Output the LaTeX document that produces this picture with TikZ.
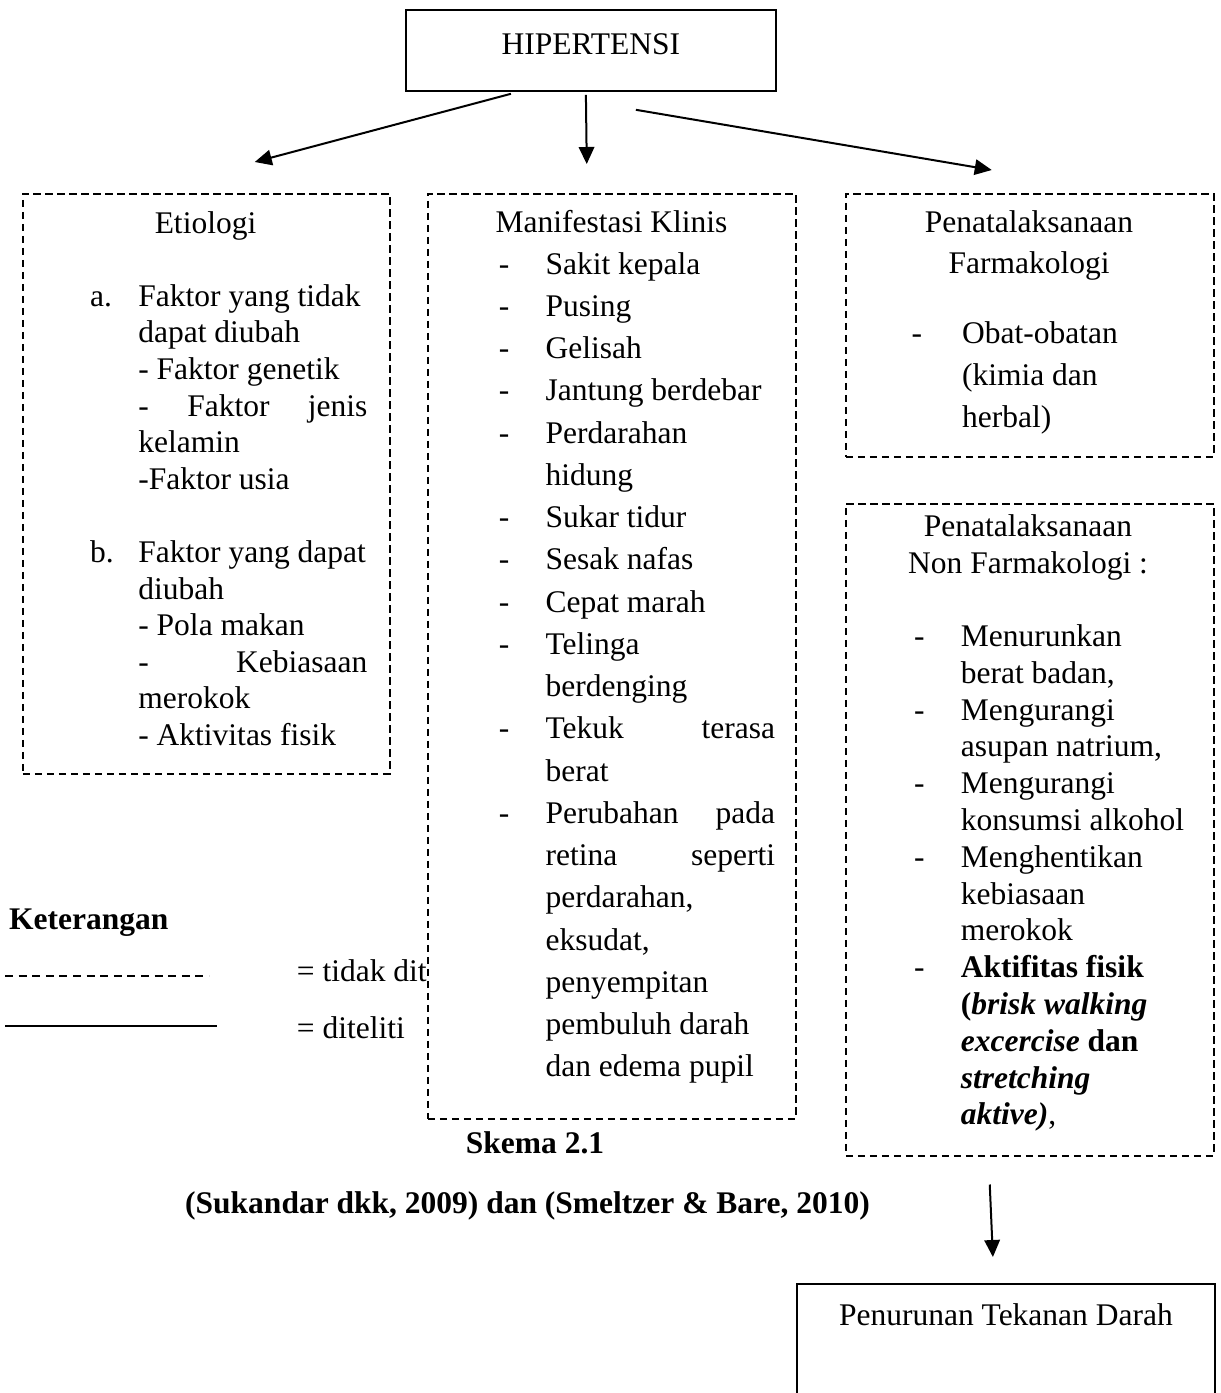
\documentclass[tikz,border=0pt]{standalone}
\usepackage{fontspec}
\setmainfont{Liberation Serif}
\usetikzlibrary{arrows.meta,calc}
\newcommand{\mkitem}[2][46.7pt]{\makebox[#1][l]{-}#2}
\newcommand{\mkcont}[2][46.7pt]{\hspace*{#1}#2}
\tikzset{
  dbox/.style={draw, line width=1.5pt, dash pattern=on 7.5pt off 4.5pt, fill=white, inner sep=0pt, anchor=north west},
  sbox/.style={draw, line width=1.8pt, fill=white, inner sep=0pt, anchor=north west},
  txt/.style={inner sep=0pt, anchor=base west},
  ctxt/.style={inner sep=0pt, anchor=base},
  arr/.style={line width=2pt, -{Triangle[length=17pt,width=15.5pt]}},
  legdash/.style={line width=1.3pt, dash pattern=on 8pt off 5.6pt},
  legsolid/.style={line width=2pt}
}
\begin{document}
\begin{tikzpicture}[x=1pt,y=-1pt,font=\fontsize{31.5}{36.6}\selectfont]
\useasboundingbox (0,0) rectangle (1221,1393);
\clip (0,0) rectangle (1221,1393);

% legend (drawn first, partly covered by the Manifestasi box)
\node[txt] (ket) at (9,929) {\textbf{Keterangan}};
\node[txt] (legA) at (296.7,981.7) {= tidak dit};
\node[txt] (legB) at (296.7,1038) {= diteliti};
\draw[legdash] (5,976) -- (209,976);
\draw[legsolid] (5,1026) -- (217,1026);

% boxes
\node[sbox, minimum width=370pt, minimum height=81pt, text height=21pt, text depth=12pt] (hip) at (405,9) {HIPERTENSI};
\node[dbox, minimum width=367pt, minimum height=580pt] (etio) at (22,193) {};
\node[dbox, minimum width=368pt, minimum height=925pt] (manif) at (427,193) {};
\node[dbox, minimum width=368pt, minimum height=263pt] (farm) at (845,193) {};
\node[dbox, minimum width=368pt, minimum height=652pt] (nonfarm) at (845,503) {};
\node[sbox, minimum width=418pt, minimum height=150pt, text height=21pt, text depth=87pt] (pen) at (796,1283) {Penurunan Tekanan Darah};

% Etiologi
\node[ctxt] (etiot) at (205.5,233) {Etiologi};
\node[txt] (etiol) at (90,306.2) {\begin{tabular}[t]{@{}l@{}}
\makebox[48.2pt][l]{a.}Faktor yang tidak\\
\hspace*{48.2pt}dapat diubah\\
\hspace*{48.2pt}- Faktor genetik\\
\hspace*{48.2pt}\makebox[229pt][s]{- Faktor jenis}\\
\hspace*{48.2pt}kelamin\\
\hspace*{48.2pt}-Faktor usia\\
\\
\makebox[48.2pt][l]{b.}Faktor yang dapat\\
\hspace*{48.2pt}diubah\\
\hspace*{48.2pt}- Pola makan\\
\hspace*{48.2pt}\makebox[229pt][s]{- Kebiasaan}\\
\hspace*{48.2pt}merokok\\
\hspace*{48.2pt}- Aktivitas fisik
\end{tabular}};

% Manifestasi Klinis
\node[ctxt] (manit) at (611.5,232) {Manifestasi Klinis};
\node[txt, font=\fontsize{31.5}{42.24}\selectfont] (manil) at (498.7,274.2) {\begin{tabular}[t]{@{}l@{}}
\mkitem{Sakit kepala}\\
\mkitem{Pusing}\\
\mkitem{Gelisah}\\
\mkitem{Jantung berdebar}\\
\mkitem{Perdarahan}\\
\mkcont{hidung}\\
\mkitem{Sukar tidur}\\
\mkitem{Sesak nafas}\\
\mkitem{Cepat marah}\\
\mkitem{Telinga}\\
\mkcont{berdenging}\\
\mkitem{\makebox[229.4pt][s]{Tekuk terasa}}\\
\mkcont{berat}\\
\mkitem{\makebox[229.4pt][s]{Perubahan pada}}\\
\mkcont{\makebox[229.4pt][s]{retina seperti}}\\
\mkcont{perdarahan,}\\
\mkcont{eksudat,}\\
\mkcont{penyempitan}\\
\mkcont{pembuluh darah}\\
\mkcont{dan edema pupil}
\end{tabular}};

% Penatalaksanaan Farmakologi
\node[ctxt] (farmt1) at (1029,232) {Penatalaksanaan};
\node[ctxt] (farmt2) at (1029,273) {Farmakologi};
\node[txt, font=\fontsize{31.5}{42}\selectfont] (farml) at (911.4,343) {\begin{tabular}[t]{@{}l@{}}
\mkitem[50.5pt]{Obat-obatan}\\
\mkcont[50.5pt]{(kimia dan}\\
\mkcont[50.5pt]{herbal)}
\end{tabular}};

% Penatalaksanaan Non Farmakologi
\node[ctxt] (nont1) at (1028,536.7) {Penatalaksanaan};
\node[ctxt] (nont2) at (1028,573.3) {Non Farmakologi :};
\node[txt, font=\fontsize{31.5}{36.8}\selectfont] (nonl) at (914,646.5) {\begin{tabular}[t]{@{}l@{}}
\mkitem{Menurunkan}\\
\mkcont{berat badan,}\\
\mkitem{Mengurangi}\\
\mkcont{asupan natrium,}\\
\mkitem{Mengurangi}\\
\mkcont{konsumsi alkohol}\\
\mkitem{Menghentikan}\\
\mkcont{kebiasaan}\\
\mkcont{merokok}\\
\mkitem{\textbf{Aktifitas fisik}}\\
\mkcont{\textbf{(\textit{brisk walking}}}\\
\mkcont{\textbf{\textit{excercise} dan}}\\
\mkcont{\textbf{\textit{stretching}}}\\
\mkcont{\textbf{\textit{aktive)}},}
\end{tabular}};

% captions
\node[ctxt] (skema) at (535,1153) {\textbf{Skema 2.1}};
\node[ctxt] (cite) at (527.5,1213) {\textbf{(Sukandar dkk, 2009) dan (Smeltzer \& Bare, 2010)}};

% connectors
\draw[arr] ([xshift=-80pt,yshift=-2pt]hip.south) -- ([xshift=48.5pt,yshift=31pt]etio.north);
\draw[arr] ([xshift=-5pt,yshift=-3pt]hip.south) -- ([xshift=-25pt,yshift=29pt]manif.north);
\draw[arr] ([xshift=45pt,yshift=-18pt]hip.south) -- ([xshift=-38pt,yshift=23pt]farm.north);
\draw[arr] ([xshift=-40pt,yshift=-28pt]nonfarm.south) -- ([xshift=-13pt,yshift=26pt]pen.north);
\end{tikzpicture}
\end{document}
